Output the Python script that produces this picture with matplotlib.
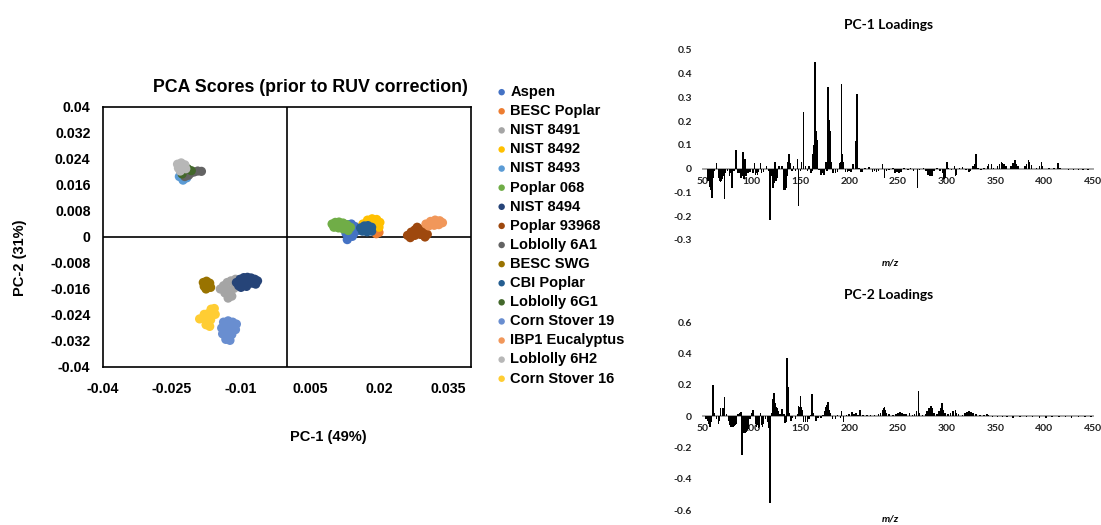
import numpy as np
import matplotlib
matplotlib.use("Agg")
import matplotlib.pyplot as plt

# ---- PCA scores, one blob of samples per material ----
names = ["Aspen", "BESC Poplar", "NIST 8491", "NIST 8492", "NIST 8493", "Poplar 068",
         "NIST 8494", "Poplar 93968", "Loblolly 6A1", "BESC SWG", "CBI Poplar",
         "Loblolly 6G1", "Corn Stover 19", "IBP1 Eucalyptus", "Loblolly 6H2", "Corn Stover 16"]
colors = ["#4472C4", "#ED7D31", "#A5A5A5", "#FFC000", "#5B9BD5", "#70AD47",
          "#264478", "#9E480E", "#636363", "#997300", "#255E91",
          "#43682B", "#698ED0", "#F1975A", "#B7B7B7", "#FFCD33"]

aspen_x = [0.0125, 0.0132, 0.0140, 0.0148, 0.0154, 0.0128, 0.0136, 0.0145, 0.0131, 0.0142]
aspen_y = [0.0030, 0.0038, 0.0040, 0.0032, 0.0020, 0.0012, 0.0018, 0.0010, -0.0008, 0.0002]
besc_poplar_x = [0.0192, 0.0198, 0.0200, 0.0194]
besc_poplar_y = [0.0030, 0.0024, 0.0014, 0.0010]
nist8491_x = [-0.0145, -0.0138, -0.0130, -0.0122, -0.0112, -0.0135, -0.0125, -0.0115, -0.0128, -0.0120, -0.0105]
nist8491_y = [-0.0160, -0.0150, -0.0140, -0.0135, -0.0130, -0.0172, -0.0165, -0.0158, -0.0188, -0.0182, -0.0145]
nist8492_x = [0.0165, 0.0175, 0.0185, 0.0195, 0.0202, 0.0170, 0.0180, 0.0190, 0.0200]
nist8492_y = [0.0040, 0.0052, 0.0056, 0.0054, 0.0045, 0.0028, 0.0036, 0.0040, 0.0030]
nist8493_x = [-0.0234, -0.0226, -0.0218]
nist8493_y = [0.0186, 0.0175, 0.0182]
poplar068_x = [0.0098, 0.0105, 0.0113, 0.0122, 0.0130, 0.0138, 0.0102, 0.0112, 0.0122, 0.0133]
poplar068_y = [0.0040, 0.0045, 0.0046, 0.0043, 0.0038, 0.0030, 0.0030, 0.0028, 0.0025, 0.0020]
nist8494_x = [-0.0110, -0.0102, -0.0094, -0.0086, -0.0078, -0.0070, -0.0064,
              -0.0105, -0.0096, -0.0086, -0.0076, -0.0068, -0.0100, -0.0088]
nist8494_y = [-0.0140, -0.0130, -0.0125, -0.0124, -0.0126, -0.0130, -0.0135,
              -0.0150, -0.0145, -0.0140, -0.0142, -0.0145, -0.0155, -0.0152]
poplar93968_x = [0.0262, 0.0270, 0.0278, 0.0287, 0.0296, 0.0305, 0.0268, 0.0278, 0.0290, 0.0300, 0.0283]
poplar93968_y = [0.0005, 0.0015, 0.0022, 0.0025, 0.0018, 0.0008, -0.0002, 0.0005, 0.0008, 0.0000, 0.0030]
lob6a1_x = [-0.0218, -0.0210, -0.0202, -0.0194, -0.0186, -0.0222, -0.0214]
lob6a1_y = [0.0198, 0.0196, 0.0200, 0.0203, 0.0202, 0.0186, 0.0190]
besc_swg_x = [-0.0182, -0.0175, -0.0168, -0.0180, -0.0172, -0.0166, -0.0176]
besc_swg_y = [-0.0140, -0.0136, -0.0142, -0.0152, -0.0150, -0.0155, -0.0160]
cbi_poplar_x = [0.0160, 0.0168, 0.0176, 0.0184, 0.0164, 0.0174, 0.0184]
cbi_poplar_y = [0.0028, 0.0034, 0.0035, 0.0030, 0.0018, 0.0016, 0.0018]
lob6g1_x = [-0.0225, -0.0216, -0.0208, -0.0228]
lob6g1_y = [0.0205, 0.0210, 0.0204, 0.0194]
corn19_x = [-0.0138, -0.0128, -0.0118, -0.0110, -0.0142, -0.0132, -0.0122,
            -0.0112, -0.0140, -0.0130, -0.0120, -0.0133, -0.0124]
corn19_y = [-0.0262, -0.0258, -0.0262, -0.0268, -0.0280, -0.0276, -0.0278,
            -0.0285, -0.0298, -0.0296, -0.0300, -0.0315, -0.0318]
ibp1_x = [0.0302, 0.0312, 0.0322, 0.0332, 0.0338, 0.0308, 0.0320, 0.0330]
ibp1_y = [0.0040, 0.0048, 0.0052, 0.0050, 0.0044, 0.0034, 0.0036, 0.0038]
lob6h2_x = [-0.0238, -0.0230, -0.0222, -0.0236, -0.0228, -0.0220, -0.0232]
lob6h2_y = [0.0224, 0.0228, 0.0222, 0.0212, 0.0215, 0.0210, 0.0203]
corn16_x = [-0.0165, -0.0158, -0.0180, -0.0172, -0.0164, -0.0156,
            -0.0190, -0.0182, -0.0174, -0.0166, -0.0176, -0.0168]
corn16_y = [-0.0222, -0.0220, -0.0238, -0.0236, -0.0234, -0.0238,
            -0.0252, -0.0250, -0.0250, -0.0255, -0.0270, -0.0275]

scores = [(aspen_x, aspen_y), (besc_poplar_x, besc_poplar_y), (nist8491_x, nist8491_y),
          (nist8492_x, nist8492_y), (nist8493_x, nist8493_y), (poplar068_x, poplar068_y),
          (nist8494_x, nist8494_y), (poplar93968_x, poplar93968_y), (lob6a1_x, lob6a1_y),
          (besc_swg_x, besc_swg_y), (cbi_poplar_x, cbi_poplar_y), (lob6g1_x, lob6g1_y),
          (corn19_x, corn19_y), (ibp1_x, ibp1_y), (lob6h2_x, lob6h2_y), (corn16_x, corn16_y)]

x_ticks = [-0.04, -0.025, -0.01, 0.005, 0.02, 0.035]
x_ticklabels = ["-0.04", "-0.025", "-0.01", "0.005", "0.02", "0.035"]
y_ticks = [0.04, 0.032, 0.024, 0.016, 0.008, 0, -0.008, -0.016, -0.024, -0.032, -0.04]
y_ticklabels = ["0.04", "0.032", "0.024", "0.016", "0.008", "0", "-0.008",
                "-0.016", "-0.024", "-0.032", "-0.04"]

# ---- loadings (m/z, loading) ----
pc1_peaks = [
    (55, -0.05), (57, -0.075), (58, -0.09), (59, -0.123), (60, -0.04), (62, -0.01), (64, 0.024),
    (66, -0.04), (67, -0.053), (68, -0.055), (69, -0.05), (70, -0.045), (71, -0.03), (72, -0.128),
    (73, -0.02), (75, -0.01), (77, -0.03), (79, -0.02), (80, -0.08), (82, -0.01), (84, 0.08),
    (86, -0.02), (88, -0.02), (89, -0.04), (90, -0.03), (91, 0.07), (92, -0.045), (93, 0.04),
    (94, -0.03), (96, -0.02), (98, -0.015), (101, -0.02), (103, 0.024), (104, -0.025),
    (105, -0.02), (106, -0.025), (107, -0.015), (109, 0.024), (110, -0.02), (112, -0.015),
    (115, 0.01), (117, -0.01), (119, -0.214), (121, -0.03), (122, -0.08), (123, -0.06),
    (124, 0.028), (125, -0.05), (126, -0.04), (128, 0.01), (131, 0.01), (133, -0.09),
    (134, -0.09), (135, -0.08), (136, -0.03), (137, 0.03), (138, 0.062), (139, 0.025),
    (141, -0.01), (143, 0.01), (145, -0.01), (147, 0.04), (148, -0.158), (150, -0.01),
    (151, 0.03), (153, 0.238), (155, 0.01), (157, -0.01), (159, 0.01), (161, -0.02),
    (162, -0.01), (163, 0.06), (164, 0.1), (165, 0.45), (166, 0.157), (167, 0.12),
    (169, -0.005), (171, -0.025), (172, -0.02), (174, -0.025), (176, 0.03), (177, -0.01),
    (178, 0.345), (179, 0.205), (180, 0.157), (181, 0.03), (183, -0.02), (184, -0.018),
    (186, -0.02), (188, -0.012), (190, 0.024), (191, 0.03), (192, 0.356), (193, 0.062),
    (194, 0.03), (196, -0.015), (198, -0.012), (200, -0.01), (202, -0.012), (204, 0.02),
    (207, 0.118), (208, 0.314), (210, 0.005), (212, -0.015), (213, -0.012), (216, 0.005),
    (220, 0.008), (224, -0.012), (226, -0.01), (228, -0.012), (230, -0.008), (234, 0.02),
    (236, -0.04), (238, -0.01), (241, -0.005), (245, 0.005), (247, -0.017), (249, -0.015),
    (251, -0.018), (253, -0.012), (256, 0.005), (260, -0.005), (263, 0.004), (266, -0.01),
    (270, -0.081), (272, -0.005), (276, 0.004), (279, -0.008), (281, -0.025), (283, -0.032),
    (285, -0.03), (287, -0.01), (290, 0.004), (293, -0.01), (296, -0.02), (297, -0.045),
    (298, -0.04), (300, 0.027), (302, 0.005), (305, -0.005), (308, 0.01), (309, -0.03),
    (310, -0.025), (313, 0.005), (316, 0.007), (320, -0.005), (323, -0.012), (324, -0.01),
    (327, 0.01), (329, 0.02), (330, 0.062), (332, 0.005), (335, -0.005), (338, 0.004),
    (342, 0.01), (343, 0.02), (346, 0.02), (348, 0.005), (352, 0.01), (354, 0.02),
    (356, 0.028), (357, 0.025), (359, 0.02), (361, 0.01), (366, 0.01), (368, 0.025),
    (370, 0.035), (371, 0.02), (373, 0.01), (380, 0.01), (382, 0.02), (384, 0.035),
    (385, 0.03), (387, 0.015), (392, 0.005), (395, 0.01), (397, 0.03), (398, 0.012),
    (405, 0.004), (410, 0.005), (414, 0.025), (416, 0.005), (425, -0.005), (430, -0.006),
    (435, -0.005), (440, -0.005), (445, -0.004)]

pc2_peaks = [
    (53, -0.02), (55, -0.03), (56, -0.05), (57, -0.07), (58, -0.04), (60, 0.196), (62, 0.02),
    (64, -0.02), (66, -0.053), (67, -0.03), (68, 0.053), (70, 0.05), (71, 0.05), (72, 0.121),
    (74, 0.01), (76, -0.03), (77, -0.06), (78, -0.064), (79, -0.07), (80, -0.065), (81, -0.07),
    (82, -0.065), (83, -0.06), (84, -0.05), (86, 0.01), (88, 0.02), (89, 0.025), (90, -0.25),
    (91, -0.1), (92, -0.106), (93, -0.11), (94, -0.1), (95, -0.09), (96, -0.08), (98, -0.02),
    (100, 0.02), (101, 0.04), (102, 0.03), (104, -0.05), (105, -0.07), (106, -0.06),
    (107, -0.075), (108, -0.07), (109, 0.02), (110, -0.06), (111, -0.07), (112, -0.05),
    (114, -0.02), (116, -0.04), (117, -0.075), (118, -0.07), (119, -0.553), (121, 0.02),
    (122, 0.106), (123, 0.149), (124, 0.08), (125, 0.06), (126, 0.05), (127, 0.03),
    (129, 0.01), (131, 0.045), (133, 0.01), (134, -0.047), (135, -0.04), (136, 0.372),
    (137, 0.185), (138, 0.02), (140, -0.03), (142, -0.01), (145, -0.02), (147, 0.01),
    (148, 0.064), (149, 0.06), (150, 0.128), (151, 0.06), (152, 0.04), (153, -0.04),
    (155, -0.04), (157, -0.04), (159, -0.02), (161, 0.005), (162, 0.142), (163, 0.02),
    (166, -0.03), (168, -0.01), (171, -0.01), (173, 0.005), (175, 0.03), (176, 0.06),
    (177, 0.07), (178, 0.09), (179, 0.04), (180, 0.02), (183, -0.02), (186, -0.017),
    (188, 0.005), (191, -0.01), (192, 0.032), (194, -0.04), (197, 0.005), (200, 0.01),
    (203, 0.025), (205, 0.01), (207, 0.02), (209, 0.005), (211, 0.04), (214, 0.005),
    (218, 0.005), (222, 0.008), (226, 0.005), (230, 0.01), (232, 0.02), (234, 0.04),
    (235, 0.05), (236, 0.057), (237, 0.04), (238, 0.02), (241, 0.01), (245, 0.005),
    (248, 0.01), (250, 0.02), (252, 0.025), (254, 0.02), (256, 0.015), (258, 0.01),
    (262, 0.02), (265, 0.005), (267, 0.01), (269, 0.03), (271, 0.16), (272, 0.02),
    (275, 0.005), (278, 0.01), (280, 0.03), (282, 0.053), (284, 0.064), (285, 0.05),
    (287, 0.02), (290, 0.01), (292, 0.03), (294, 0.05), (295, 0.085), (296, 0.04),
    (298, 0.02), (301, 0.01), (304, 0.02), (306, 0.03), (307, 0.032), (309, 0.036),
    (310, 0.02), (312, 0.01), (316, 0.005), (319, 0.02), (321, 0.028), (323, 0.03),
    (325, 0.028), (327, 0.02), (330, 0.01), (334, 0.005), (338, 0.008), (341, 0.015),
    (343, 0.005), (347, -0.005), (352, -0.008), (357, -0.005), (362, -0.008), (368, -0.01),
    (375, -0.006), (382, -0.008), (388, -0.005), (395, -0.01), (402, -0.012), (408, -0.006),
    (415, -0.008), (422, -0.005), (428, -0.01), (435, -0.006), (442, -0.008), (448, -0.005)]

mz_ticks = [50, 100, 150, 200, 250, 300, 350, 400, 450]
pc1_yticks = [0.5, 0.4, 0.3, 0.2, 0.1, 0, -0.1, -0.2, -0.3]
pc1_yticklabels = ["0.5", "0.4", "0.3", "0.2", "0.1", "0", "-0.1", "-0.2", "-0.3"]
pc2_yticks = [0.6, 0.4, 0.2, 0, -0.2, -0.4, -0.6]
pc2_yticklabels = ["0.6", "0.4", "0.2", "0", "-0.2", "-0.4", "-0.6"]

W, H = 1101, 525
fig = plt.figure(figsize=(W / 100, H / 100), dpi=100)


def box(left, top, right, bottom):
    return [left / W, 1 - bottom / H, (right - left) / W, (bottom - top) / H]


arial = "Liberation Sans"
calibri = "Lato"

# ---------------- scores plot ----------------
ax = fig.add_axes(box(103, 107, 471, 367))
for name, col, (xs, ys) in zip(names, colors, scores):
    ax.scatter(xs, ys, s=44, color=col, edgecolors="none", label=name, zorder=3)
ax.set_xlim(-0.04, 0.04)
ax.set_ylim(-0.04, 0.04)
ax.axhline(0, color="black", lw=1.2, zorder=1)
ax.axvline(0, color="black", lw=1.2, zorder=1)
ax.set_xticks(x_ticks)
ax.set_xticklabels(x_ticklabels)
ax.set_yticks(y_ticks)
ax.set_yticklabels(y_ticklabels)
ax.tick_params(length=0, labelsize=10.2)
ax.tick_params(axis="x", pad=11)
ax.tick_params(axis="y", pad=9)
for lab in ax.get_xticklabels() + ax.get_yticklabels():
    lab.set_fontfamily(arial)
    lab.set_fontweight("bold")
for sp in ax.spines.values():
    sp.set_linewidth(1.2)
    sp.set_color("black")

fig.text(310 / W, 1 - 88 / H, "PCA Scores (prior to RUV correction)", ha="center", va="center",
         fontsize=12.8, fontweight="bold", family=arial)
fig.text(328 / W, 1 - 437 / H, "PC-1 (49%)", ha="center", va="center",
         fontsize=10.5, fontweight="bold", family=arial)
fig.text(20 / W, 1 - 258 / H, "PC-2 (31%)", ha="center", va="center", rotation=90,
         fontsize=10.5, fontweight="bold", family=arial)

leg = fig.legend(loc="upper left", bbox_to_anchor=(498 / W, 1 - 85 / H), frameon=False,
                 prop={"family": arial, "weight": "bold", "size": 10.5},
                 handlelength=0.5, handletextpad=0.35, labelspacing=0.35, borderpad=0,
                 borderaxespad=0, scatterpoints=1, markerscale=0.7)

# ---------------- loadings plots ----------------
def loadings(rect, peaks, ylim, yticks, yticklabels, title, title_y, label_y):
    a = fig.add_axes(rect)
    mz = [p[0] for p in peaks]
    val = [p[1] for p in peaks]
    a.bar(mz, val, width=1.6, color="black", linewidth=0, zorder=3)
    a.set_xlim(50, 450)
    a.set_ylim(*ylim)
    for s in ("top", "right", "left"):
        a.spines[s].set_visible(False)
    a.spines["bottom"].set_position(("data", 0))
    a.spines["bottom"].set_color("#a6a6a6")
    a.spines["bottom"].set_linewidth(1.4)
    a.set_xticks(mz_ticks)
    a.set_yticks(yticks)
    a.set_yticklabels(yticklabels)
    a.tick_params(length=0, labelsize=7.5, colors="#222222")
    a.tick_params(axis="x", pad=6)
    a.tick_params(axis="y", pad=8)
    for lab in a.get_xticklabels() + a.get_yticklabels():
        lab.set_fontfamily(calibri)
        lab.set_fontweight("bold")
    fig.text(889 / W, 1 - title_y / H, title, ha="center", va="center",
             fontsize=10, fontweight="bold", family=calibri)
    fig.text(890 / W, 1 - label_y / H, "m/z", ha="center", va="center",
             fontsize=7.5, fontstyle="italic", fontweight="bold", family=calibri)
    return a


loadings(box(703, 50, 1093, 240), pc1_peaks, (-0.3, 0.5), pc1_yticks, pc1_yticklabels,
         "PC-1 Loadings", 25, 263)
loadings(box(703, 322, 1093, 510), pc2_peaks, (-0.6, 0.6), pc2_yticks, pc2_yticklabels,
         "PC-2 Loadings", 295, 519)

fig.savefig("out.png", dpi=100)
